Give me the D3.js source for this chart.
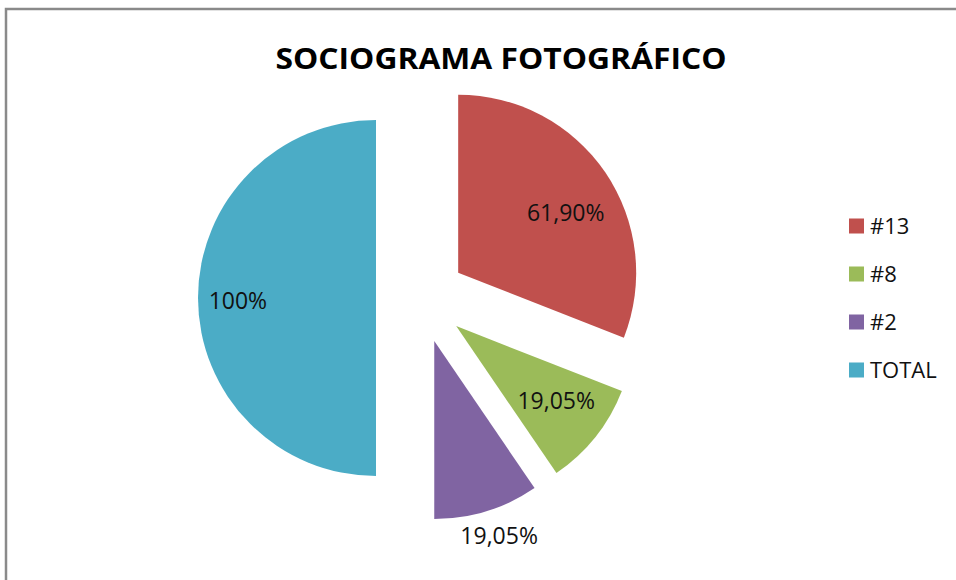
<!DOCTYPE html>
<html>
<head>
<meta charset="utf-8">
<script src="https://cdn.jsdelivr.net/npm/d3@7"></script>
<style>
  html, body { margin: 0; padding: 0; background: #fff; }
  svg { display: block; }
</style>
</head>
<body>
<svg id="chart"></svg>
<script>
// Chart data
const categories = ["#13", "#8", "#2", "TOTAL"];
const values = [61.90, 19.05, 19.05, 100];
const valueLabels = ["61,90%", "19,05%", "19,05%", "100%"];
const colors = ["#C0504D", "#9BBB59", "#8064A2", "#4BACC6"];

document.addEventListener('DOMContentLoaded', () => {
    const width = 956, height = 580;
    const svg = d3.select('#chart').attr('width', width).attr('height', height);

    // chart frame (runs off the right and bottom edges)
    svg.append('rect')
        .attr('x', 6).attr('y', 9)
        .attr('width', 970).attr('height', 600)
        .attr('fill', '#fff')
        .attr('stroke', '#8a8a8a')
        .attr('stroke-width', 2.5);

    // title
    svg.append('text')
        .attr('x', 501).attr('y', 69)
        .attr('text-anchor', 'middle')
        .attr('textLength', 451)
        .attr('lengthAdjust', 'spacingAndGlyphs')
        .style('font-family', '"Open Sans", sans-serif')
        .style('font-weight', 'bold')
        .style('font-size', '28px')
        .attr('fill', '#000')
        .text('SOCIOGRAMA FOTOGRÁFICO');

    const cx = 421, cy = 298;
    const radius = 178;
    const explode = 45;
    // label distance from the slice tip (share of radius) and small angle nudge (deg)
    const labelPos = [0.693, 0.70, 1.152, 0.776];
    const labelTurn = [5, -2, -1.3, -1];

    const pie = d3.pie().sort(null).value(d => d);
    const arcs = pie(values);
    const arc = d3.arc().innerRadius(0).outerRadius(radius);

    const g = svg.append('g').attr('transform', `translate(${cx},${cy})`);

    const slice = g.selectAll('.slice')
        .data(arcs)
        .enter()
        .append('g')
        .attr('class', 'slice')
        .attr('transform', d => {
            const a = (d.startAngle + d.endAngle) / 2;
            return `translate(${Math.sin(a) * explode},${-Math.cos(a) * explode})`;
        });

    slice.append('path')
        .attr('d', arc)
        .attr('fill', (d, i) => colors[i]);

    const labelAngle = (d, i) => (d.startAngle + d.endAngle) / 2 + labelTurn[i] * Math.PI / 180;

    slice.append('text')
        .attr('text-anchor', 'middle')
        .attr('dy', '0.36em')
        .attr('x', (d, i) => Math.sin(labelAngle(d, i)) * radius * labelPos[i])
        .attr('y', (d, i) => -Math.cos(labelAngle(d, i)) * radius * labelPos[i])
        .style('font-family', '"Open Sans", sans-serif')
        .style('font-size', '23px')
        .attr('fill', '#111')
        .text((d, i) => valueLabels[i]);

    // legend
    const legend = svg.append('g').attr('transform', 'translate(849,226)');
    const item = legend.selectAll('.item')
        .data(categories)
        .enter()
        .append('g')
        .attr('class', 'item')
        .attr('transform', (d, i) => `translate(0,${i * 48})`);

    item.append('rect')
        .attr('x', 0).attr('y', -7.5)
        .attr('width', 15).attr('height', 15)
        .attr('fill', (d, i) => colors[i]);

    item.append('text')
        .attr('x', 21).attr('y', 8)
        .style('font-family', '"Open Sans", sans-serif')
        .style('font-size', '22px')
        .attr('fill', '#111')
        .text(d => d);
});
</script>
</body>
</html>
